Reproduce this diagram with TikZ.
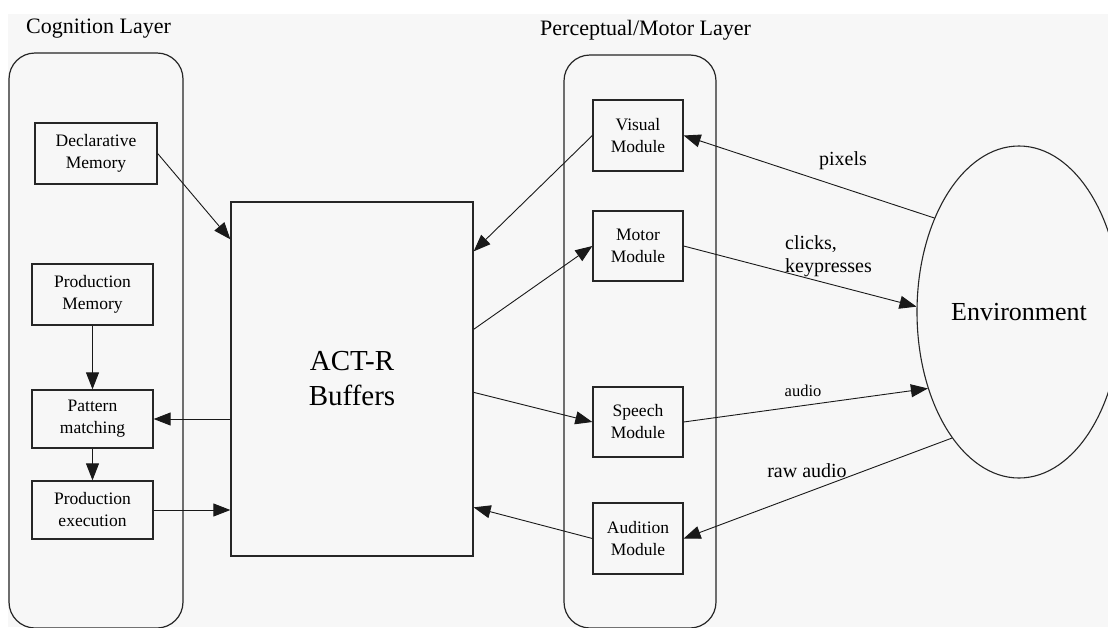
\documentclass[tikz,border=0pt]{standalone}
\usepackage{fontspec}
\setmainfont{Liberation Serif}
\usetikzlibrary{arrows.meta,calc,shapes.geometric}
\begin{document}
\begin{tikzpicture}[x=1pt,y=-1pt,
  box/.style={draw=black!85, line width=1.3pt, align=center, inner sep=0pt,
    font=\fontsize{17.5}{22}\selectfont},
  layer/.style={draw=black!85, line width=1.2pt, rounded corners=26pt, inner sep=0pt},
  conn/.style={draw=black!90, line width=0.9pt, -{Triangle[length=17pt,width=13pt]}},
  elab/.style={font=\fontsize{20}{23}\selectfont, inner sep=0pt},
  ttl/.style={font=\fontsize{22}{26}\selectfont, inner sep=0pt, anchor=base west},
]
\useasboundingbox (0,0) rectangle (1108,627);
\fill[white] (0,0) rectangle (1108,627);
\fill[black!3] (8,14) rectangle (1108,627);

% layer titles
\node[ttl] (cogt) at (26,33) {Cognition Layer};
\node[ttl] (pmt) at (540,35) {Perceptual/Motor Layer};

% layer containers
\node[layer, minimum width=174pt, minimum height=575pt] (cog) at (96,340.5) {};
\node[layer, minimum width=152pt, minimum height=573pt] (pm) at (640,341.5) {};

% cognition boxes
\node[box, minimum width=122pt, minimum height=61pt] (decl) at (96,153.5) {Declarative\\Memory};
\node[box, minimum width=121pt, minimum height=61pt] (prodmem) at (92.5,294.5) {Production\\Memory};
\node[box, minimum width=121pt, minimum height=58pt] (pattern) at (92.5,419) {Pattern\\matching};
\node[box, minimum width=121pt, minimum height=58pt] (prodexec) at (92.5,510) {Production\\execution};

% buffers
\node[box, minimum width=242pt, minimum height=354pt, font=\fontsize{29}{35}\selectfont] (act) at (352,379) {ACT-R\\Buffers};

% modules
\node[box, minimum width=90pt, minimum height=71pt] (visual) at (638,135.5) {Visual\\Module};
\node[box, minimum width=90pt, minimum height=70pt] (motor) at (638,246) {Motor\\Module};
\node[box, minimum width=90pt, minimum height=70pt] (speech) at (638,422) {Speech\\Module};
\node[box, minimum width=90pt, minimum height=71pt] (audition) at (638,538.5) {Audition\\Module};

% environment
\node[draw=black!85, line width=1.1pt, ellipse, minimum width=204pt, minimum height=332pt,
  inner sep=0pt, font=\fontsize{26}{30}\selectfont] (env) at (1019,312) {Environment};

% cognition connectors
\draw[conn] (decl.east) -- ($(act.north west)+(0,38)$);
\draw[conn] (prodmem.south) -- (pattern.north);
\draw[conn] (pattern.south) -- (prodexec.north);
\draw[conn] (pattern.east -| act.west) -- (pattern.east);
\draw[conn] (prodexec.east) -- (prodexec.east -| act.west);

% buffer <-> modules
\draw[conn] (visual.west) -- ($(act.north east)+(0,50)$);
\draw[conn] ($(act.north east)+(0,128)$) -- (motor.west);
\draw[conn] ($(act.north east)+(0,191)$) -- (speech.west);
\draw[conn] (audition.west) -- ($(act.north east)+(0,306)$);

% modules <-> environment
\draw[conn] (env.132.2) -- (visual.east);
\draw[conn] (motor.east) -- (env.177.8);
\draw[conn] (speech.east) -- (env.220.6);
\draw[conn] (env.242.6) -- (audition.east);

% edge labels
\node[elab] (lpix) at (843,161) {pixels};
\node[elab, align=left, anchor=west] (lclick) at (785,256) {clicks,\\keypresses};
\node[font=\fontsize{16.5}{20}\selectfont, inner sep=0pt] (laud) at (803,391) {audio};
\node[elab] (lraw) at (807,471) {raw audio};
\end{tikzpicture}
\end{document}
